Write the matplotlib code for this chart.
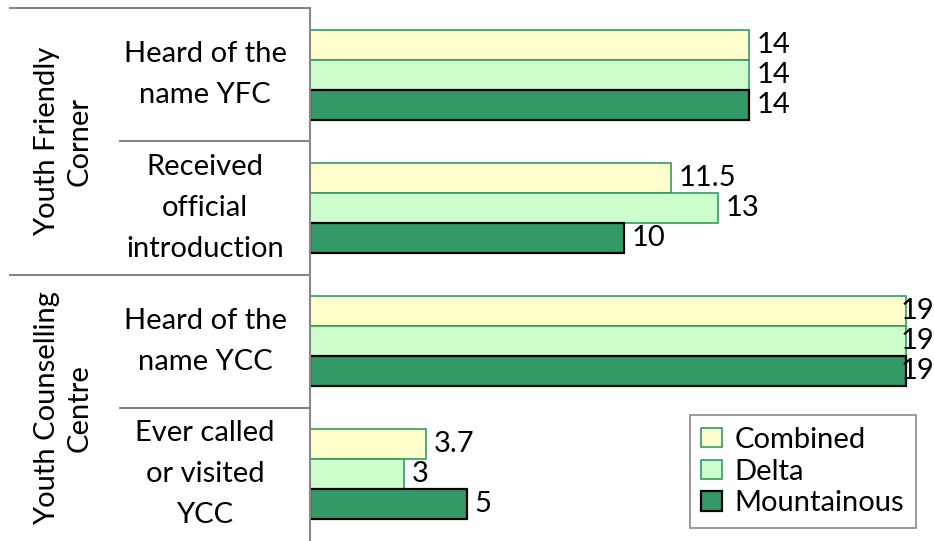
import numpy as np
import matplotlib.pyplot as plt
from matplotlib.transforms import blended_transform_factory

# chart data
groups = ["Youth Friendly\nCorner", "Youth Counselling\nCentre"]
items = ["Heard of the\nname YFC", "Received\nofficial\nintroduction",
         "Heard of the\nname YCC", "Ever called\nor visited\nYCC"]
series = ["Combined", "Delta", "Mountainous"]
combined = [14, 11.5, 19, 3.7]
delta = [14, 13, 19, 3]
mountainous = [14, 10, 19, 5]

values = [combined, delta, mountainous]
faces = ["#FFFFCC", "#CCFFCC", "#339966"]
edges = ["#339966", "#339966", "#000000"]

plt.rcParams['font.family'] = ['Lato', 'DejaVu Sans']
fs = 21

fig = plt.figure(figsize=(9.34, 5.41), dpi=100)
ax = fig.add_axes([310 / 934, 0, 624 / 934, 533 / 541])
xmax = 19.9

h = 0.225
centers = np.arange(len(items)) + 0.5
for k, (vals, fc, ec) in enumerate(zip(values, faces, edges)):
    y = centers + (k - 1) * h
    lw = 1.6 if ec == "#000000" else 1.2
    ax.barh(y, vals, height=h, color=fc, edgecolor=ec, linewidth=lw, label=series[k])
    for yy, v in zip(y, vals):
        if v + 1.3 > xmax:
            # no room past the bar: tuck the label against the right edge
            ax.text(xmax, yy, f"{v:g}", va="center", ha="right", fontsize=fs)
        else:
            ax.text(v + 0.25, yy, f"{v:g}", va="center", ha="left", fontsize=fs)

ax.set_xlim(0, xmax)
ax.set_ylim(len(items), 0)
ax.set_xticks([])
ax.set_yticks([])
for s in ["top", "right", "bottom"]:
    ax.spines[s].set_visible(False)
ax.spines["left"].set_color("#888888")
ax.spines["left"].set_linewidth(1.5)

# category table on the left
tr = blended_transform_factory(fig.transFigure, ax.transData)
for b in range(len(items)):
    x0 = 10 / 934 if b % 2 == 0 else 120 / 934
    ax.plot([x0, 310 / 934], [b, b], color="#777777", lw=1.3,
            transform=tr, clip_on=False)
for i, lab in enumerate(items):
    ax.text(205 / 934, i + 0.5, lab, transform=tr, ha="center", va="center",
            fontsize=fs, linespacing=1.72)
for g, lab in enumerate(groups):
    ax.text(63 / 934, 2 * g + 1, lab, transform=tr, ha="center", va="center",
            rotation=90, fontsize=fs, linespacing=1.3)

leg = ax.legend(loc="lower right", bbox_to_anchor=(916 / 934, 13 / 541),
                bbox_transform=fig.transFigure, fontsize=fs, frameon=True,
                fancybox=False, edgecolor="#777777", handlelength=0.7,
                handleheight=0.65, handletextpad=0.45, labelspacing=0.2,
                borderpad=0.4, borderaxespad=0)
leg.get_frame().set_linewidth(1.3)

fig.savefig("out.png", dpi=100)
